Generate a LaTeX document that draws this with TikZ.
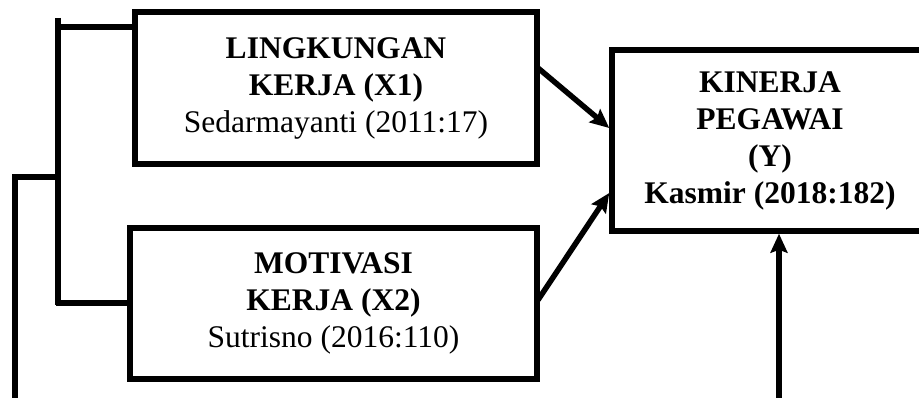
\documentclass[tikz,border=0pt]{standalone}
\usepackage{fontspec}
\setmainfont{Liberation Serif}
\usetikzlibrary{arrows.meta}
\begin{document}
\begin{tikzpicture}[x=1pt,y=-1pt,
  box/.style={draw,line width=5.5pt,align=center,inner sep=0pt,
    font=\fontsize{31.5}{37}\selectfont},
  conn/.style={line width=5.5pt},
  arr/.style={line width=5.5pt,-{Stealth[length=19pt,width=17pt,inset=3pt]}}]
\useasboundingbox (0,0) rectangle (919,398);
\node[box,minimum width=402pt,minimum height=152pt] (x1) at (336,88)
  {\textbf{LINGKUNGAN}\\\textbf{KERJA (X1)}\\Sedarmayanti (2011:17)};
\node[box,minimum width=407pt,minimum height=151pt] (x2) at (333.5,303.5)
  {\textbf{MOTIVASI}\\\textbf{KERJA (X2)}\\Sutrisno (2016:110)};
\node[box,minimum width=316pt,minimum height=181pt] (y) at (770,140.5)
  {\textbf{KINERJA}\\\textbf{PEGAWAI}\\\textbf{(Y)}\\\textbf{Kasmir (2018:182)}};
% bracket
\coordinate (btop) at (58,18);
\coordinate (bbot) at (58,305);
\coordinate (bmid) at (58,177);
\coordinate (lfoot) at (15,400);
\draw[conn] (btop) -- (bbot);
\draw[conn] (x1.west |- 0,27) -- (58,27);
\draw[conn] (x2.west |- 0,303) -- (56,303);
\draw[conn] (bmid) -- (15,177) -- (lfoot);
% arrows
\coordinate (s1) at (538,68);
\coordinate (s2) at (538,300);
\coordinate (s3) at (779,400);
\draw[arr] (s1) -- (y.west |- 0,128);
\draw[arr] (s2) -- (y.west |- 0,193);
\draw[arr] (s3) -- (y.south -| s3);
\end{tikzpicture}
\end{document}
